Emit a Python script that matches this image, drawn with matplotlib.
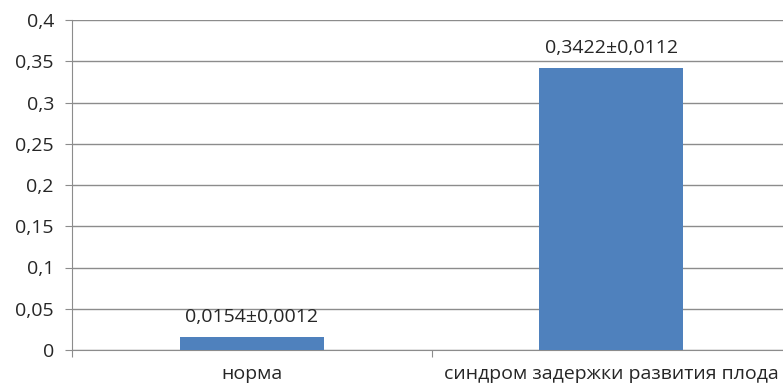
import matplotlib
matplotlib.use("Agg")
import matplotlib.pyplot as plt
import numpy as np

categories = ["норма", "синдром задержки развития плода"]
means = [0.0154, 0.3422]
errors = [0.0012, 0.0112]
yticks = [0, 0.05, 0.1, 0.15, 0.2, 0.25, 0.3, 0.35, 0.4]

plt.rcParams['font.family'] = ['Open Sans', 'DejaVu Sans']
fs = 14
txt = '#262626'
line = '#8c8c8c'

fig = plt.figure(figsize=(7.83, 3.87), dpi=100)
# plot area runs a little past the right edge of the picture
ax = fig.add_axes([72 / 783, 37 / 387, 719 / 783, 330 / 387])

x = np.arange(len(categories))
ax.bar(x, means, width=0.4, color='#4F81BD', zorder=3)

for xi, m, e in zip(x, means, errors):
    lbl = ('%.4f±%.4f' % (m, e)).replace('.', ',')
    ax.annotate(lbl, (xi, m), xytext=(0, 8), textcoords='offset points',
                ha='center', va='bottom', fontsize=fs, color=txt)

ax.set_xlim(-0.5, 1.5)
ax.set_ylim(0, 0.4)
ax.set_yticks(yticks)
ax.set_yticklabels([('%g' % t).replace('.', ',') for t in yticks])
ax.yaxis.grid(True, color=line, lw=1)
ax.set_axisbelow(True)

# category boundaries as major ticks, names on minor ticks
ax.set_xticks([-0.5, 0.5, 1.5])
ax.set_xticklabels([])
ax.set_xticks(x, minor=True)
ax.set_xticklabels(categories, minor=True)
ax.tick_params(axis='x', which='major', length=5, color=line, direction='out')
ax.tick_params(axis='x', which='minor', length=0, pad=11, labelsize=fs, labelcolor=txt)
ax.tick_params(axis='y', length=5, color=line, labelsize=fs, labelcolor=txt, pad=8)

for s in ['top', 'right']:
    ax.spines[s].set_visible(False)
for s in ['left', 'bottom']:
    ax.spines[s].set_color(line)

fig.savefig('out.png', dpi=100)
